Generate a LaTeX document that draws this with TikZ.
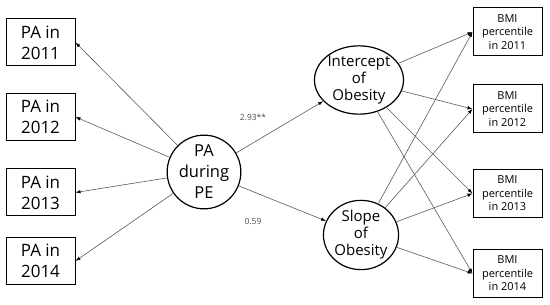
\documentclass[tikz,border=0pt]{standalone}
\usepackage{fontspec}
\setmainfont{Open Sans}
\usetikzlibrary{shapes.geometric,arrows.meta}
\begin{document}
\begin{tikzpicture}[
    x=1pt, y=1pt,
    yearbox/.style={draw, line width=1pt, minimum width=69pt, minimum height=47pt,
                inner sep=0pt, align=center, font=\fontsize{17}{21}\selectfont},
    bmibox/.style={draw, line width=1pt, minimum width=69pt, minimum height=48pt,
                inner sep=0pt, align=center, font=\fontsize{11}{13.5}\selectfont},
    latent/.style={draw, line width=1.2pt, ellipse, inner sep=0pt, align=center},
    path/.style={draw=black!65, line width=0.6pt, -{Latex[length=5pt,width=3.5pt,black]}},
    coef/.style={font=\fontsize{8.5}{10}\selectfont, text=black!70},
  ]
  \useasboundingbox (0,0) rectangle (550,305);
  % Left: the indicators of PA during PE
  \node[yearbox] (pa11) at (40.5, 262.5) {PA in\\2011};
  \node[yearbox] (pa12) at (40.5, 188) {PA in\\2012};
  \node[yearbox] (pa13) at (40.5, 112.5) {PA in\\2013};
  \node[yearbox] (pa14) at (40.5, 44) {PA in\\2014};
  % Middle: the latent factors
  \node[latent, circle, minimum size=68pt, font=\fontsize{16.5}{21}\selectfont] (pape) at (204, 133) {PA\\during\\PE};
  \node[latent, minimum width=76pt, minimum height=54pt, font=\fontsize{15}{17}\selectfont] (icpt) at (359, 225) {Intercept\\of\\Obesity};
  \node[latent, minimum width=72pt, minimum height=56pt, font=\fontsize{15}{17}\selectfont] (slope) at (361, 70) {Slope\\of\\Obesity};
  % Right: the BMI percentiles
  \node[bmibox] (bmi11) at (507.5, 273) {BMI\\percentile\\in 2011};
  \node[bmibox] (bmi12) at (507.5, 196) {BMI\\percentile\\in 2012};
  \node[bmibox] (bmi13) at (507.5, 111.5) {BMI\\percentile\\in 2013};
  \node[bmibox] (bmi14) at (507.5, 31.5) {BMI\\percentile\\in 2014};
  % Paths
  \foreach \yr in {11,12,13,14} {
    \draw[path] (pape) -- (pa\yr.east);
    \draw[path] (icpt) -- (bmi\yr.west);
    \draw[path] (slope) -- (bmi\yr.west);
  }
  \draw[path] (pape) -- (icpt);
  \draw[path] (pape) -- (slope);
  \node[coef] (c1) at (253, 188) {2.93**};
  \node[coef] (c2) at (253, 84) {0.59};
\end{tikzpicture}
\end{document}
